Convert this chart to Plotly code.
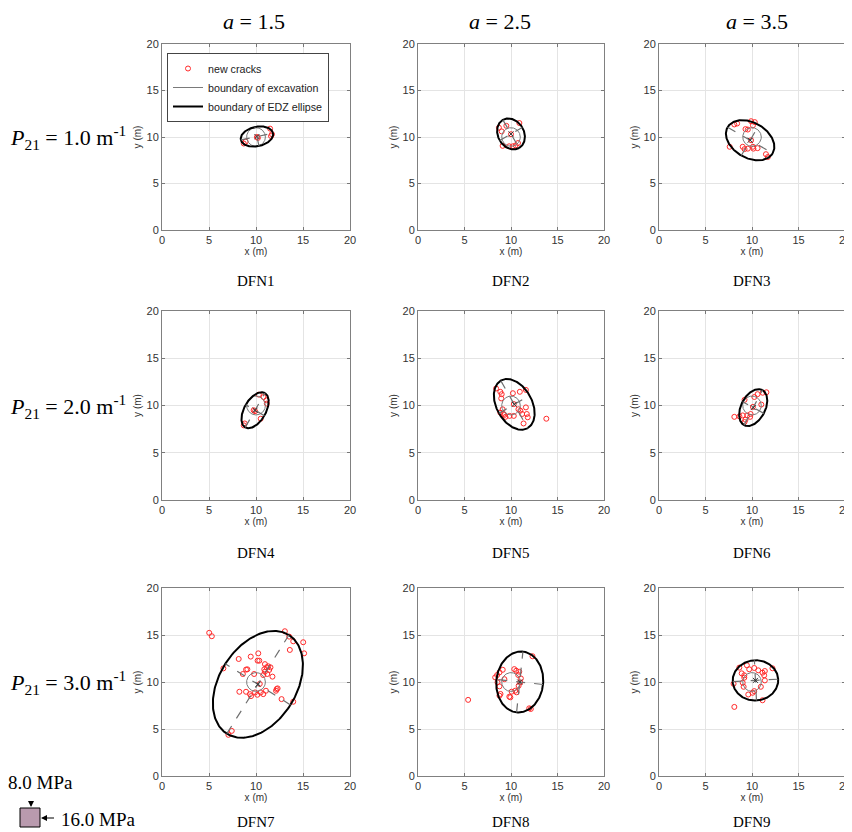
import numpy as np
import plotly.graph_objects as go

# page body has an 8px margin, so the figure is drawn 8px smaller and offset
OFF = 8
W, H = 852 - OFF, 832 - OFF

panel_names = ["DFN1", "DFN2", "DFN3", "DFN4", "DFN5", "DFN6", "DFN7", "DFN8", "DFN9"]
col_titles = ["<i>a</i> = 1.5", "<i>a</i> = 2.5", "<i>a</i> = 3.5"]
row_titles = ["<i>P</i><sub>21</sub> = 1.0 m<sup>-1</sup>",
              "<i>P</i><sub>21</sub> = 2.0 m<sup>-1</sup>",
              "<i>P</i><sub>21</sub> = 3.0 m<sup>-1</sup>"]
tick_vals = [0, 5, 10, 15, 20]

# EDZ ellipse parameters (centre, semi-axes, orientation in degrees)
ell_cx = [10.1, 10.0, 9.8, 9.9, 10.35, 10.13, 10.2, 10.94, 10.37]
ell_cy = [10.05, 10.33, 9.65, 9.5, 10.12, 9.78, 9.75, 10.0, 10.17]
ell_a = [1.75, 1.75, 2.8, 2.1, 2.9, 2.1, 6.2, 3.25, 2.45]
ell_b = [1.05, 1.4, 1.9, 1.15, 1.9, 1.3, 4.1, 2.52, 2.14]
ell_deg = [12, -60, -30, 60, -60, 62, 57.8, 84, 3]

# excavation boundary
exc_cx, exc_cy, exc_r = 10.0, 10.0, 1.0

# new cracks
dfn1_x = [8.7, 8.9, 10.1, 10.2, 11.5, 11.7, 11.6]
dfn1_y = [9.3, 9.5, 10.0, 9.9, 10.9, 10.3, 10.1]
dfn2_x = [8.7, 9.5, 10.9, 10.0, 10.2, 9.8, 10.5, 10.75, 9.1, 9.0]
dfn2_y = [11.0, 11.2, 11.5, 10.3, 9.0, 9.0, 9.1, 9.35, 9.05, 10.6]
dfn3_x = [8.1, 8.4, 9.9, 10.1, 9.3, 9.55, 7.6, 9.0, 9.2, 9.55, 10.1, 10.6, 9.9, 11.5, 11.7, 10.15, 10.3]
dfn3_y = [11.35, 11.45, 11.7, 11.25, 10.85, 10.8, 8.95, 8.95, 8.7, 8.75, 8.95, 8.8, 9.65, 8.15, 7.85, 8.75, 11.6]
dfn4_x = [10.3, 10.8, 11.1, 11.15, 9.75, 9.9, 8.8, 8.7, 10.5]
dfn4_y = [11.15, 10.9, 10.55, 10.2, 9.5, 9.4, 8.1, 7.9, 8.6]
dfn5_x = [8.4, 8.85, 9.0, 10.2, 10.95, 11.6, 8.95, 8.85, 9.2, 9.4, 10.3, 11.0, 11.2, 11.6, 11.7,
          11.8, 11.35, 13.8, 10.3, 10.8, 9.85, 9.1, 9.3]
dfn5_y = [11.8, 11.45, 11.2, 11.3, 11.45, 11.65, 10.75, 9.25, 9.1, 8.8, 8.9, 9.45, 9.1, 9.8, 9.1,
          8.75, 8.1, 8.6, 10.15, 9.6, 8.9, 9.6, 9.0]
dfn6_x = [10.6, 11.15, 11.55, 10.25, 9.2, 11.0, 10.1, 8.1, 8.65, 9.0, 9.5, 9.8, 9.3, 9.2, 9.85]
dfn6_y = [11.2, 11.35, 11.4, 10.9, 10.6, 10.1, 9.85, 8.8, 8.85, 8.95, 8.95, 8.8, 8.5, 8.25, 9.1]
dfn7_x = [5.02, 5.3, 6.53, 7.42, 7.06, 13.07, 13.53, 13.96, 15.02, 15.12, 13.6, 8.16, 9.44, 10.24,
          10.35, 10.17, 9.08, 8.94, 8.6, 10.88, 11.13, 11.3, 10.95, 10.77, 11.2, 11.4, 11.75, 11.54,
          8.23, 8.94, 9.47, 9.36, 9.9, 10.14, 10.77, 11.06, 10.5, 12.2, 12.13, 12.3, 12.72, 13.96,
          9.8, 10.95, 10.4]
dfn7_y = [15.23, 14.87, 11.45, 4.8, 4.38, 15.4, 14.83, 14.33, 14.23, 13.05, 13.41, 12.45, 12.7, 13.05,
          12.27, 12.27, 11.35, 11.32, 10.85, 11.35, 11.56, 11.67, 11.1, 10.74, 10.85, 11.28, 10.57, 11.56,
          8.96, 8.96, 8.5, 8.71, 8.89, 8.64, 8.71, 9.07, 8.89, 9.25, 9.07, 9.32, 8.18, 7.9,
          10.85, 11.9, 9.8]
dfn8_x = [5.39, 8.3, 8.51, 8.76, 9.11, 8.55, 8.76, 8.87, 8.76, 9.82, 9.93, 10.07, 10.46, 10.6, 10.35,
          10.57, 10.89, 10.78, 11.06, 10.99, 10.82, 12.31, 11.96, 12.13, 9.29]
dfn8_y = [8.1, 10.49, 10.74, 11.02, 11.3, 9.96, 9.54, 8.73, 8.55, 8.44, 8.37, 8.97, 9.08, 8.9, 11.37,
          11.2, 11.09, 10.74, 10.38, 9.96, 9.6, 12.74, 7.2, 7.13, 10.3]
dfn9_x = [8.1, 8.64, 8.89, 9.17, 9.45, 9.7, 10.24, 10.67, 11.13, 11.38, 11.31, 11.38, 12.2, 9.17, 9.0,
          9.1, 10.06, 10.24, 9.6, 11.13, 10.95, 8.02]
dfn9_y = [7.35, 11.53, 10.92, 10.71, 11.78, 11.35, 11.49, 11.24, 10.99, 11.17, 10.71, 10.17, 11.46, 10.46,
          9.92, 9.49, 8.85, 9.03, 8.67, 8.06, 9.49, 9.81]

cracks_x = [dfn1_x, dfn2_x, dfn3_x, dfn4_x, dfn5_x, dfn6_x, dfn7_x, dfn8_x, dfn9_x]
cracks_y = [dfn1_y, dfn2_y, dfn3_y, dfn4_y, dfn5_y, dfn6_y, dfn7_y, dfn8_y, dfn9_y]

# ---- layout geometry (window pixels) ----
col_px = [(162, 350), (418, 604), (659, 845)]
row_px = [(44, 230), (311, 500), (588, 776)]


def px_x(p):
    return (p - OFF) / W


def px_y(p):
    return 1 - (p - OFF) / H


fig = go.Figure()
t = np.linspace(0, 2 * np.pi, 241)

for i in range(9):
    r, c = divmod(i, 3)
    xa = "x" if i == 0 else f"x{i + 1}"
    ya = "y" if i == 0 else f"y{i + 1}"
    first = i == 0
    fig.add_trace(go.Scatter(
        x=cracks_x[i], y=cracks_y[i], mode="markers", xaxis=xa, yaxis=ya,
        marker=dict(symbol="circle-open", size=5, color="#ff2a2a", line=dict(width=1)),
        name="new cracks", showlegend=first, legendrank=1))
    fig.add_trace(go.Scatter(
        x=exc_cx + exc_r * np.cos(t), y=exc_cy + exc_r * np.sin(t), mode="lines",
        xaxis=xa, yaxis=ya, line=dict(color="#7a7a7a", width=1),
        name="boundary of excavation", showlegend=first, legendrank=2))
    th = np.deg2rad(ell_deg[i])
    ex = ell_cx[i] + ell_a[i] * np.cos(t) * np.cos(th) - ell_b[i] * np.sin(t) * np.sin(th)
    ey = ell_cy[i] + ell_a[i] * np.cos(t) * np.sin(th) + ell_b[i] * np.sin(t) * np.cos(th)
    fig.add_trace(go.Scatter(
        x=ex, y=ey, mode="lines", xaxis=xa, yaxis=ya,
        line=dict(color="black", width=2),
        name="boundary of EDZ ellipse", showlegend=first, legendrank=3))
    ax_x = [ell_cx[i] - ell_a[i] * np.cos(th), ell_cx[i] + ell_a[i] * np.cos(th), None,
            ell_cx[i] + ell_b[i] * np.sin(th), ell_cx[i] - ell_b[i] * np.sin(th)]
    ax_y = [ell_cy[i] - ell_a[i] * np.sin(th), ell_cy[i] + ell_a[i] * np.sin(th), None,
            ell_cy[i] - ell_b[i] * np.cos(th), ell_cy[i] + ell_b[i] * np.cos(th)]
    fig.add_trace(go.Scatter(
        x=ax_x, y=ax_y, mode="lines", xaxis=xa, yaxis=ya,
        line=dict(color="#6e6e6e", width=1.2, dash="dash"), showlegend=False, hoverinfo="skip"))
    fig.add_trace(go.Scatter(
        x=[ell_cx[i]], y=[ell_cy[i]], mode="markers", xaxis=xa, yaxis=ya,
        marker=dict(symbol="x-thin", size=5, line=dict(width=1, color="#333333")),
        showlegend=False, hoverinfo="skip"))

    x0, x1 = col_px[c]
    y0, y1 = row_px[r]
    common = dict(range=[0, 20], tickvals=tick_vals, ticks="inside", ticklen=3, tickcolor="#777",
                  showline=True, mirror="ticks", linecolor="#808080", linewidth=1,
                  showgrid=True, gridcolor="#e4e4e4", gridwidth=1, zeroline=False, automargin=False,
                  tickfont=dict(family="Liberation Sans", size=11, color="#333"))
    fig.layout[("xaxis" if i == 0 else f"xaxis{i + 1}")] = dict(
        domain=[px_x(x0), px_x(x1)], anchor=ya,
        title=dict(text="x (m)", font=dict(family="Liberation Sans", size=10, color="#333"), standoff=2),
        **common)
    fig.layout[("yaxis" if i == 0 else f"yaxis{i + 1}")] = dict(
        domain=[px_y(y1), px_y(y0)], anchor=xa,
        title=dict(text="y (m)", font=dict(family="Liberation Sans", size=10, color="#333"), standoff=3),
        **common)


def note(text, x, y, size, xanchor="center", family="Liberation Serif"):
    return dict(text=text, x=px_x(x), y=px_y(y), xref="paper", yref="paper", showarrow=False,
                xanchor=xanchor, yanchor="middle", font=dict(family=family, size=size, color="black"))


annotations = []
col_centers = [254, 500, 757]
for c in range(3):
    annotations.append(note(col_titles[c], col_centers[c], 21, 22))
row_centers = [137, 406, 682]
for r in range(3):
    annotations.append(note(row_titles[r], 8, row_centers[r], 22, xanchor="left"))
dfn_rows = [281, 553, 822]
for i in range(9):
    r, c = divmod(i, 3)
    annotations.append(note(panel_names[i], sum(col_px[c]) / 2, dfn_rows[r], 15))
annotations.append(note("8.0 MPa", 40, 782, 19))
annotations.append(note("16.0 MPa", 59, 819, 19, xanchor="left"))
annotations.append(dict(text=" ", x=px_x(31), y=px_y(807), xref="paper", yref="paper", showarrow=True,
                        ax=0, ay=-15, arrowhead=2, arrowsize=1, arrowwidth=1.2, arrowcolor="black"))
annotations.append(dict(text=" ", x=px_x(41), y=px_y(818), xref="paper", yref="paper", showarrow=True,
                        ax=16, ay=0, arrowhead=2, arrowsize=1, arrowwidth=1.2, arrowcolor="black"))

shapes = [dict(type="rect", xref="paper", yref="paper", x0=px_x(20), x1=px_x(40), y0=px_y(827), y1=px_y(808),
               fillcolor="#b99aae", line=dict(color="black", width=1))]

fig.update_layout(
    width=W, height=H, margin=dict(l=0, r=0, t=0, b=0, autoexpand=False),
    paper_bgcolor="white", plot_bgcolor="white",
    annotations=annotations, shapes=shapes,
    legend=dict(x=px_x(167), y=px_y(53), xanchor="left", yanchor="top", bgcolor="white",
                bordercolor="#444", borderwidth=1, itemwidth=30, tracegroupgap=0,
                font=dict(family="Liberation Sans", size=10.7, color="#222")),
)

fig.write_html("out.html")
